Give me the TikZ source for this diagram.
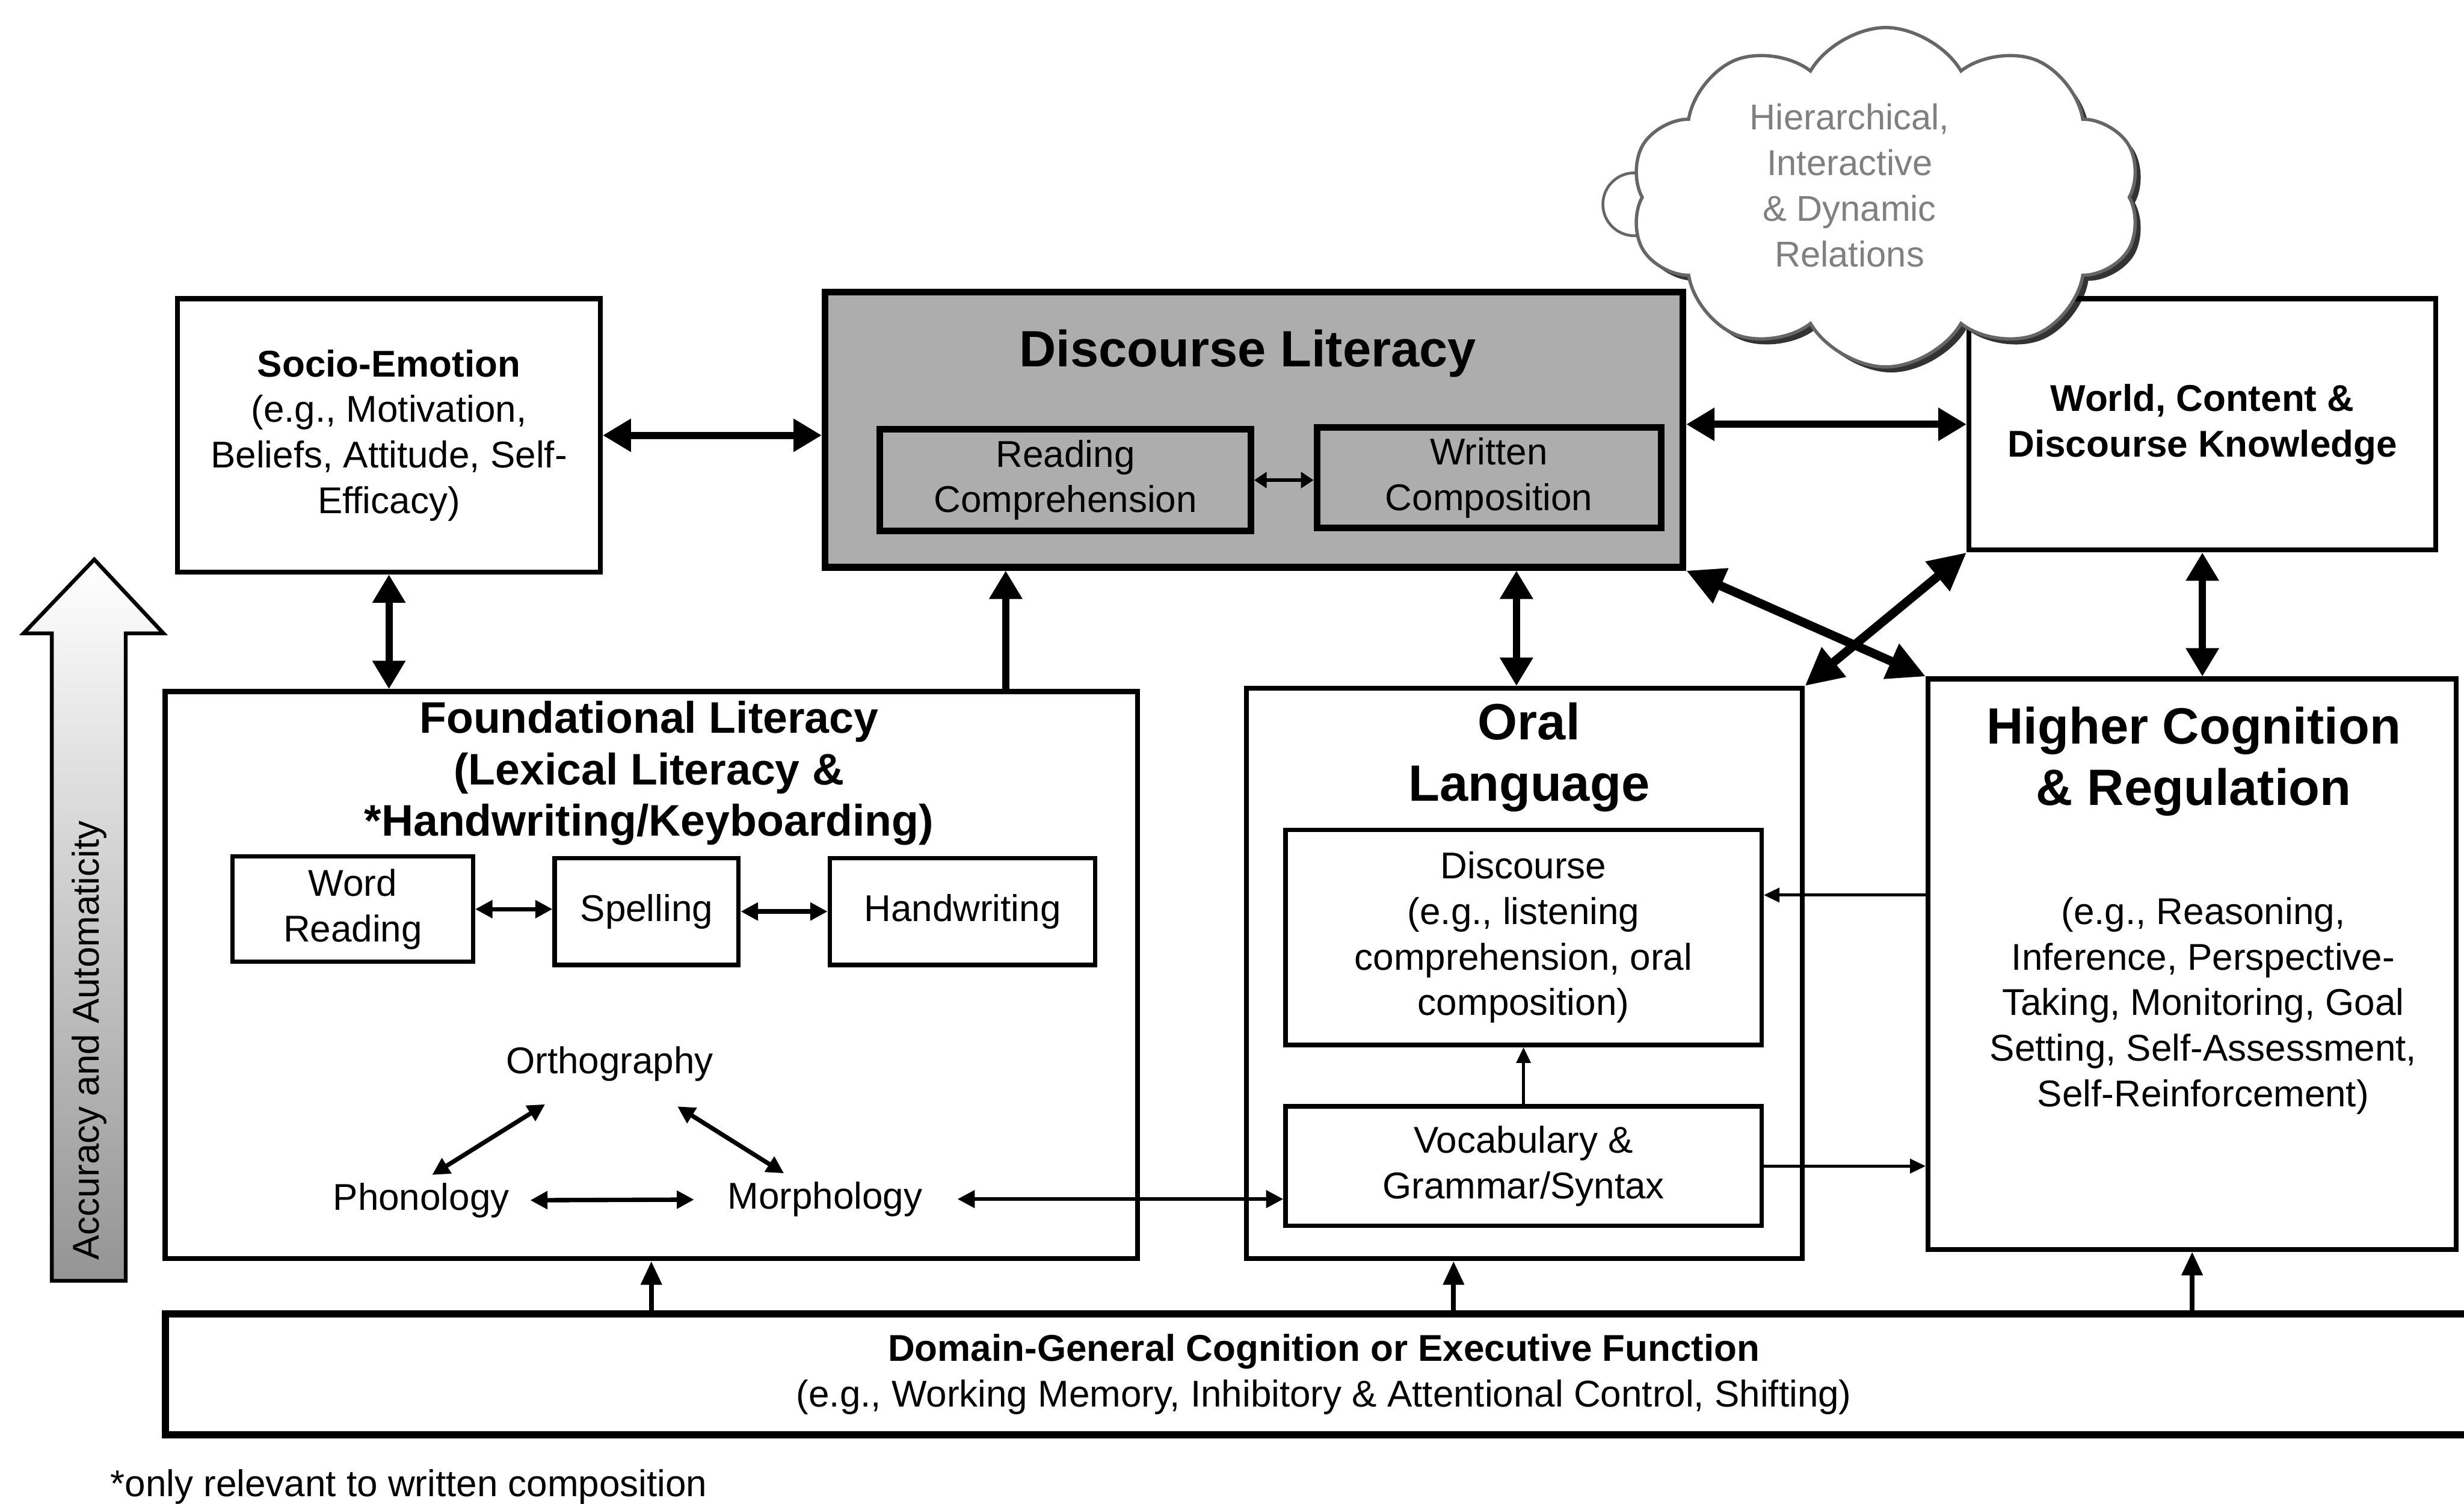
\documentclass[tikz,border=0pt]{standalone}
\usepackage{fontspec}
\setmainfont{Liberation Sans}
\usepackage{tikz}
\usetikzlibrary{arrows.meta}
\usetikzlibrary{shapes.symbols,shadows}
\definecolor{dlgray}{gray}{0.68}
\definecolor{cloudtext}{gray}{0.5}
\newcommand{\bodyfont}{\fontsize{13.5}{16.5}\selectfont}
\newcommand{\headfont}{\fontsize{18.5}{22.2}\selectfont\bfseries}
\newcommand{\flfont}{\fontsize{16}{18.6}\selectfont\bfseries}

\begin{document}
\begin{tikzpicture}[x=0.02cm,y=-0.02cm,
	box/.style={draw,line width=1.8pt,fill=white,inner sep=0pt,align=center,font=\bodyfont},
	dlbox/.style={draw,line width=2.4pt,fill=dlgray,inner sep=0pt,align=center,font=\bodyfont},
	txt/.style={inner sep=0.1cm,align=center,font=\bodyfont},
	twoway/.style={<->,>={Triangle[length=0.36cm,width=0.4cm]},line width=2.6pt},
	oneway/.style={->,>={Triangle[length=0.36cm,width=0.4cm]},line width=2.6pt},
	crossway/.style={<->,>={Triangle[length=0.48cm,width=0.46cm]},line width=3.2pt},
	thinway/.style={<->,>={Triangle[length=0.22cm,width=0.22cm]},line width=1.6pt},
	hairway/.style={->,>={Triangle[length=0.2cm,width=0.18cm]},line width=1.1pt},
	upway/.style={->,>={Triangle[length=0.3cm,width=0.26cm]},line width=1.7pt}]
			\clip (0,0) rectangle (1568,957);
			\fill[white] (0,0) rectangle (1568,957);
			
			\shadedraw[top color=white,bottom color=black!42,draw=black,line width=1.4pt] (33,815) -- (33,403) -- (15,403) -- (60,356) -- (104,403) -- (80,403) -- (80,815) -- cycle;
			\node[txt,rotate=90] (accu) at (57,662) {Accuracy and Automaticity};
			
			\node[box,minimum width=5.38cm,minimum height=3.48cm] (socio) at (247.5,277) {\textbf{Socio-Emotion}\\(e.g., Motivation,\\Beliefs, Attitude, Self-\\Efficacy)};
			
			\node[dlbox,minimum width=10.92cm,minimum height=3.5cm] (disclit) at (798,273.5) {};
			\node[txt,font=\headfont] (dltitle) at (794,225) {Discourse Literacy};
			\node[dlbox,minimum width=4.72cm,minimum height=1.3cm] (readcomp) at (678,305.5) {Reading\\Comprehension};
			\node[dlbox,minimum width=4.38cm,minimum height=1.28cm] (writcomp) at (947.5,304) {Written\\Composition};
			
			\node[box,minimum width=5.94cm,minimum height=3.2cm,font=\bodyfont\bfseries] (world) at (1401.5,270) {World, Content \&\\Discourse Knowledge};
			
			\node[circle,draw=black!60,line width=1pt,minimum size=0.8cm] (cloudtail) at (1040,130) {};
			\node[cloud,cloud puffs=10,cloud puff arc=120,cloud ignores aspect,draw=black!60,line width=1.2pt,fill=white,minimum width=6.5cm,minimum height=4.32cm,drop shadow={shadow xshift=2pt,shadow yshift=-2pt,fill=black,opacity=0.8}] (relcloud) at (1200,125.5) {};
			\node[txt,text=cloudtext,font=\fontsize{13}{16.5}\selectfont] (cloudtxt) at (1177,118) {Hierarchical,\\Interactive\\\& Dynamic\\Relations};
			
			\node[box,minimum width=12.38cm,minimum height=7.22cm] (found) at (414.5,620.5) {};
			\node[txt,font=\flfont] (fltitle) at (413,492) {Foundational Literacy\\(Lexical Literacy \&\\*Handwriting/Keyboarding)};
			\node[box,line width=1.6pt,minimum width=3.06cm,minimum height=1.34cm] (wordread) at (224.5,578.5) {Word\\Reading};
			\node[box,line width=1.6pt,minimum width=2.34cm,minimum height=1.36cm] (spell) at (411.5,580) {Spelling};
			\node[box,line width=1.6pt,minimum width=3.38cm,minimum height=1.36cm] (handwr) at (612.5,580) {Handwriting};
			\node[txt] (ortho) at (388,677) {Orthography};
			\node[txt] (phono) at (268,764) {Phonology};
			\node[txt] (morpho) at (525,763) {Morphology};
			
			\node[box,minimum width=7.08cm,minimum height=7.26cm] (oral) at (970,619.5) {};
			\node[txt,font=\headfont] (oltitle) at (973,482) {Oral\\Language};
			\node[box,line width=1.6pt,minimum width=6.06cm,minimum height=2.74cm] (olangdisc) at (969.5,596.5) {Discourse\\(e.g., listening\\comprehension, oral\\composition)};
			\node[box,line width=1.6pt,minimum width=6.06cm,minimum height=1.52cm] (vocab) at (969.5,742) {Vocabulary \&\\Grammar/Syntax};
			
			\node[box,minimum width=6.72cm,minimum height=7.26cm] (higher) at (1395,613.5) {};
			\node[txt,font=\headfont] (hctitle) at (1396,484.5) {Higher Cognition\\\& Regulation};
			\node[txt] (hcbody) at (1402,640) {(e.g., Reasoning,\\Inference, Perspective-\\Taking, Monitoring, Goal\\Setting, Self-Assessment,\\Self-Reinforcement)};
			
			\node[box,line width=2.6pt,minimum width=29.5cm,minimum height=1.54cm] (domain) at (842.5,874.5) {\textbf{Domain-General Cognition or Executive Function}\\(e.g., Working Memory, Inhibitory \& Attentional Control, Shifting)};
			
			\node[txt,anchor=west] (fnote) at (65,946) {*only relevant to written composition};
			
			\coordinate (xfd) at (640,0);
			\coordinate (xdo) at (965,0);
			\coordinate (xdomo) at (925,0);
			
			\draw[twoway] (socio.east) -- (socio.east -| disclit.west);
			\draw[twoway] (socio.south) -- (socio.south |- found.north);
			\draw[oneway] (found.north -| xfd) -- (disclit.south -| xfd);
			\draw[twoway] (world.west -| disclit.east) -- (world.west);
			\draw[twoway] (disclit.south -| xdo) -- (oral.north -| xdo);
			\draw[twoway] (world.south) -- (world.south |- higher.north);
			\draw[crossway] (disclit.south east) -- (higher.north west);
			\draw[crossway] (world.south west) -- (oral.north east);
			\draw[thinway,>={Triangle[length=0.16cm,width=0.2cm]},line width=1.4pt] (readcomp.east) -- (readcomp.east -| writcomp.west);
			
			\draw[thinway] (wordread.east) -- (wordread.east -| spell.west);
			\draw[thinway] (spell.east) -- (handwr.west);
			\draw[thinway,shorten <=0.35cm] (ortho) -- ([xshift=0.14cm]phono.north);
			\draw[thinway,shorten <=0.4cm] (ortho) -- (morpho);
			\draw[thinway,shorten <=0.16cm,shorten >=0.32cm] (phono) -- (morpho);
			\draw[thinway,line width=1.3pt,shorten <=0.34cm] (morpho.east) -- (morpho.east -| vocab.west);
			
			\draw[hairway] (vocab.north) -- (olangdisc.south);
			\draw[hairway] (olangdisc.10 -| higher.west) -- (olangdisc.10);
			\draw[hairway] (vocab.east) -- (vocab.east -| higher.west);
			
			\draw[upway] (domain.north -| found.south) -- (found.south);
			\draw[upway] (domain.north -| xdomo) -- (oral.south -| xdomo);
			\draw[upway] (domain.north -| higher.south) -- (higher.south);
		\end{tikzpicture}
\end{document}
